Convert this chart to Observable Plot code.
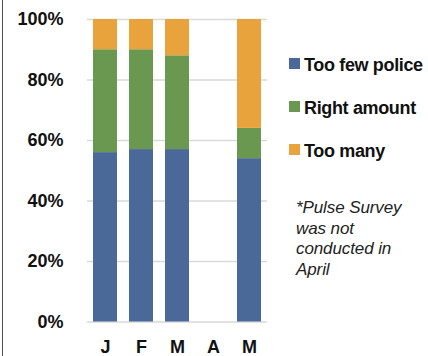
<!DOCTYPE html>
<html>
<head>
<meta charset="utf-8">
<script src="https://cdn.jsdelivr.net/npm/d3@7"></script>
<script src="https://cdn.jsdelivr.net/npm/@observablehq/plot@0.6"></script>
<style>
  html, body { margin: 0; padding: 0; background: #fff; }
  #wrap { position: relative; width: 428px; height: 356px; overflow: hidden; }
  #edge { position: absolute; left: 2px; top: 0; width: 1px; height: 356px; background: #4d4d4d; }
</style>
</head>
<body>
<div id="wrap"><div id="edge"></div></div>
<script>
// Monthly survey responses on police staffing (percent of respondents)
const months = ["Jan", "Feb", "Mar", "Apr", "May"];
const monthLabels = ["J", "F", "M", "A", "M"];
const seriesNames = ["Too few police", "Right amount", "Too many"];
const seriesColors = ["#4a6898", "#6a9850", "#e8a33d"];
const tooFew = [56, 57, 57, null, 54];
const rightAmount = [34, 33, 31, null, 10];
const tooMany = [10, 10, 12, null, 36];
const yTicks = [0, 20, 40, 60, 80, 100];
const noteLines = ["*Pulse Survey", "was not", "conducted in", "April"];

const seriesValues = [tooFew, rightAmount, tooMany];
const rows = [];
seriesNames.forEach((name, s) => {
  months.forEach((m, i) => {
    const v = seriesValues[s][i];
    if (v != null) rows.push({month: m, series: name, value: v});
  });
});

const chart = Plot.plot({
  width: 428,
  height: 356,
  marginLeft: 87,
  marginRight: 161,
  marginTop: 19,
  marginBottom: 34.5,
  style: {
    fontFamily: "'Liberation Sans', Arial, sans-serif",
    fontSize: "18px",
    fontWeight: "bold",
    color: "#111",
    background: "transparent"
  },
  x: {domain: months, paddingInner: 1 / 3, paddingOuter: 1 / 6, label: null},
  y: {domain: [0, 100], label: null},
  color: {domain: seriesNames, range: seriesColors},
  marks: [
    Plot.gridY(yTicks, {stroke: "#d9d9d9", strokeOpacity: 1, strokeWidth: 1.6}),
    Plot.barY(rows, Plot.stackY({
      x: "month",
      y: "value",
      fill: "series",
      order: seriesNames
    })),
    Plot.axisY(yTicks, {
      tickSize: 0,
      tickPadding: 24,
      tickFormat: d => d + "%",
      label: null
    }),
    Plot.axisX({
      tickSize: 0,
      tickPadding: 18,
      tickFormat: d => monthLabels[months.indexOf(d)],
      label: null
    })
  ]
});

document.getElementById("wrap").appendChild(chart);

// Legend and footnote on the right side of the chart
const svg = d3.select(chart);
const legend = svg.append("g").attr("text-anchor", "start");
seriesNames.forEach((name, i) => {
  const y0 = 58 + i * 43;
  legend.append("rect")
    .attr("x", 289).attr("y", y0)
    .attr("width", 11).attr("height", 11)
    .attr("fill", seriesColors[i]);
  legend.append("text")
    .attr("x", 304).attr("y", y0 + 12.5)
    .attr("text-anchor", "start")
    .attr("font-size", 18)
    .attr("font-weight", "bold")
    .attr("letter-spacing", "-0.35px")
    .attr("fill", "#111")
    .text(name);
});

const note = svg.append("g").attr("text-anchor", "start");
noteLines.forEach((line, i) => {
  note.append("text")
    .attr("x", 296).attr("y", 213 + i * 20.5)
    .attr("text-anchor", "start")
    .attr("font-size", 17)
    .attr("font-weight", "normal")
    .attr("font-style", "italic")
    .attr("letter-spacing", "-0.1px")
    .attr("fill", "#222")
    .text(line);
});
</script>
</body>
</html>
